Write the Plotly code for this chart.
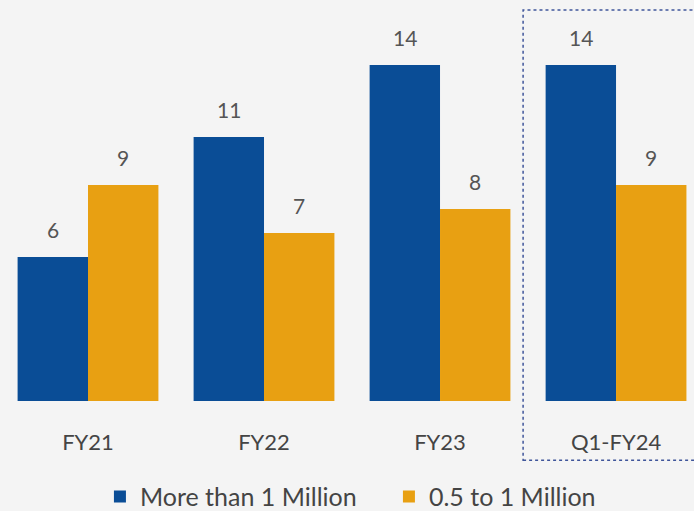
import plotly.graph_objects as go

categories = ["FY21", "FY22", "FY23", "Q1-FY24"]
more_than_1m = [6, 11, 14, 14]
half_to_1m = [9, 7, 8, 9]
series_names = ["More than 1 Million", "0.5 to 1 Million"]

BLUE = "#0a4d96"
ORANGE = "#e8a012"
FONT = "Lato, Liberation Sans, Arial, sans-serif"

fig = go.Figure()
fig.add_trace(go.Bar(x=categories, y=more_than_1m, name=series_names[0],
                     marker=dict(color=BLUE, line=dict(width=0))))
fig.add_trace(go.Bar(x=categories, y=half_to_1m, name=series_names[1],
                     marker=dict(color=ORANGE, line=dict(width=0))))

annotations = []
for i, (a, b) in enumerate(zip(more_than_1m, half_to_1m)):
    for off, v in ((-0.2, a), (0.2, b)):
        annotations.append(dict(x=i + off, y=v, xref="x", yref="y", text=str(v),
                                showarrow=False, yshift=28, yanchor="middle",
                                font=dict(size=21, color="#555555", family=FONT)))

fig.update_layout(
    width=694, height=511,
    margin=dict(l=0, r=0, t=0, b=110, autoexpand=False),
    barmode="group", bargap=0.2, bargroupgap=0,
    paper_bgcolor="#f4f4f4", plot_bgcolor="rgba(0,0,0,0)",
    font=dict(family=FONT, color="#444444"),
    xaxis=dict(range=[-0.5, 3.443], showgrid=False, zeroline=False, showline=False,
               automargin=False, ticks="", ticklabelstandoff=26,
               tickfont=dict(size=22, color="#444444")),
    yaxis=dict(range=[0, 16.71], visible=False, fixedrange=True, automargin=False),
    showlegend=True,
    legend=dict(orientation="h", x=0.144, xanchor="left", y=-0.239, yanchor="middle",
                font=dict(size=25, color="#444444"), itemwidth=30,
                entrywidth=244, entrywidthmode="pixels",
                bgcolor="rgba(0,0,0,0)"),
    annotations=annotations,
    shapes=[
        dict(type="rect", xref="x", yref="paper", x0=2.472, x1=3.6,
             y0=-0.148, y1=0.975,
             line=dict(color="#3f559a", width=1.5, dash="dot"), layer="above"),
    ],
)

fig.write_html("out.html", config={"displayModeBar": False},
               post_script="document.body.style.margin='0';document.body.style.overflow='hidden';")
